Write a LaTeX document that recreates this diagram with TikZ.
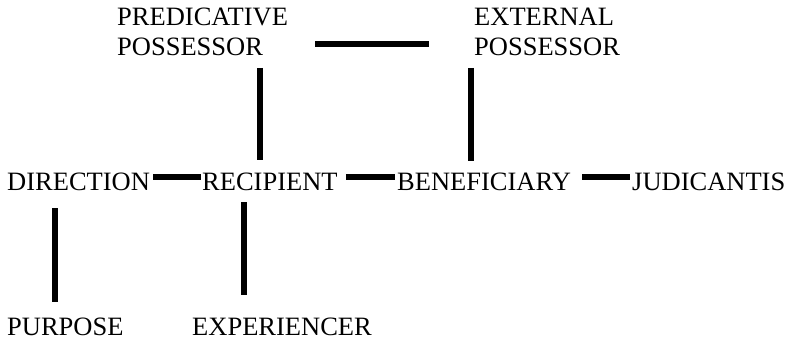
\documentclass[tikz,border=0pt]{standalone}
\usepackage{fontspec}
\setmainfont{Liberation Serif}
\begin{document}
\begin{tikzpicture}[x=1pt,y=-1pt,
  role/.style={inner sep=0pt,anchor=base west,text height=27pt,text depth=0pt,
    font=\fontsize{26.5}{30}\selectfont},
  toprole/.style={inner sep=0pt,anchor=base west,align=left,
    font=\fontsize{26.5}{30}\selectfont},
  link/.style={line width=6pt}]
\useasboundingbox (0,0) rectangle (786,342);
% top row (base is the second line)
\node[toprole] (pred) at (117,55.5) {PREDICATIVE\\POSSESSOR};
\node[toprole] (ext) at (474,55.5) {EXTERNAL\\POSSESSOR};
% middle row
\node[role] (dir) at (7,190) {DIRECTION};
\node[role] (rec) at (202,190) {RECIPIENT};
\node[role] (ben) at (397,190) {BENEFICIARY};
\node[role] (jud) at (632,190) {JUDICANTIS};
% bottom row
\node[role] (purp) at (7,335) {PURPOSE};
\node[role] (exp) at (192,335) {EXPERIENCER};
% where the vertical links meet the middle row
\coordinate (recup) at ([xshift=-10pt]rec.north);
\coordinate (benup) at ([xshift=-13.5pt]ben.north);
\coordinate (dirdown) at ([xshift=-24pt]dir.south);
\coordinate (recdown) at ([xshift=-25.5pt]rec.south);
% links
\draw[link,shorten <=27pt,shorten >=45pt] ([yshift=11.5pt]pred.base east) -- ([yshift=11.5pt]ext.base west);
\draw[link,shorten <=12pt,shorten >=3pt] (recup |- pred.south) -- (recup);
\draw[link,shorten <=12pt,shorten >=2pt] (benup |- ext.south) -- (benup);
\draw[link,shorten <=3pt,shorten >=1pt] (dir.east) -- (rec.west);
\draw[link,shorten <=8pt,shorten >=2pt] (rec.east) -- (ben.west);
\draw[link,shorten <=11pt,shorten >=2pt] (ben.east) -- (jud.west);
\draw[link,shorten <=18pt,shorten >=6pt] (dirdown) -- (dirdown |- purp.north);
\draw[link,shorten <=12pt,shorten >=13pt] (recdown) -- (recdown |- exp.north);
\end{tikzpicture}
\end{document}
